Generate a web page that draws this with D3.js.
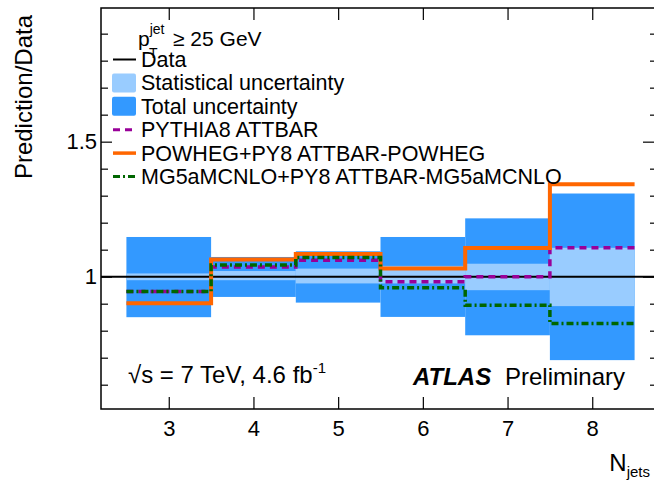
<!DOCTYPE html>
<html>
<head>
<meta charset="utf-8">
<script src="https://cdn.jsdelivr.net/npm/d3@7"></script>
<style>
  html, body { margin: 0; padding: 0; background: #fff; }
  svg { display: block; font-family: "Liberation Sans", Arial, Helvetica, sans-serif; }
</style>
</head>
<body>
<svg id="chart" width="654" height="481"></svg>
<script>
// Jet multiplicity bins and the ratio of each prediction to data
const nJets = [3, 4, 5, 6, 7, 8];
const totalLow  = [0.850, 0.925, 0.904, 0.851, 0.783, 0.691];
const totalHigh = [1.147, 1.073, 1.094, 1.147, 1.216, 1.308];
const statLow   = [0.987, 0.987, 0.975, 0.975, 0.950, 0.891];
const statHigh  = [1.012, 1.021, 1.030, 1.040, 1.048, 1.107];
const pythia8   = [0.945, 1.036, 1.061, 0.981, 1.000, 1.107];
const powheg    = [0.902, 1.064, 1.084, 1.030, 1.106, 1.342];
const mg5amcnlo = [0.945, 1.043, 1.071, 0.959, 0.894, 0.827];
const yMajorTicks = [1, 1.5];
const yTickLabels = ["1", "1.5"];
const legendLabels = [
  "Data",
  "Statistical uncertainty",
  "Total uncertainty",
  "PYTHIA8 ATTBAR",
  "POWHEG+PY8 ATTBAR-POWHEG",
  "MG5aMCNLO+PY8 ATTBAR-MG5aMCNLO"
];

const svg = d3.select("#chart");
const frame = { left: 101, right: 660, top: 8, bottom: 409 };

const x = d3.scaleLinear().domain([2.2, 8.8]).range([frame.left, frame.right]);
const y = d3.scaleLinear().domain([0.51, 1.995]).range([frame.bottom, frame.top]);

const colors = {
  total: "#3399ff",
  stat: "#99ccff",
  pythia: "#990099",
  powheg: "#ff6600",
  mg5: "#006600"
};

const plot = svg.append("g");

// total uncertainty boxes
plot.selectAll("rect.total").data(nJets).join("rect")
  .attr("class", "total")
  .attr("x", d => x(d - 0.5))
  .attr("width", d => x(d + 0.5) - x(d - 0.5))
  .attr("y", (d, i) => y(totalHigh[i]))
  .attr("height", (d, i) => y(totalLow[i]) - y(totalHigh[i]))
  .attr("fill", colors.total);

// statistical uncertainty boxes
plot.selectAll("rect.stat").data(nJets).join("rect")
  .attr("class", "stat")
  .attr("x", d => x(d - 0.5))
  .attr("width", d => x(d + 0.5) - x(d - 0.5))
  .attr("y", (d, i) => y(statHigh[i]))
  .attr("height", (d, i) => y(statLow[i]) - y(statHigh[i]))
  .attr("fill", colors.stat);

// data reference line at unity
plot.append("line")
  .attr("x1", frame.left).attr("x2", frame.right)
  .attr("y1", y(1)).attr("y2", y(1))
  .attr("stroke", "#000").attr("stroke-width", 2);

// step histograms for the predictions
function stepPoints(vals) {
  const pts = [];
  nJets.forEach((n, i) => { pts.push([n - 0.5, vals[i]], [n + 0.5, vals[i]]); });
  return pts;
}
const stepLine = d3.line().x(d => x(d[0])).y(d => y(d[1]));

const series = [
  { vals: pythia8, color: colors.pythia, width: 3.5, dash: "7,5" },
  { vals: powheg, color: colors.powheg, width: 4, dash: null },
  { vals: mg5amcnlo, color: colors.mg5, width: 3.5, dash: "7,3,2,3" }
];
series.forEach(s => {
  plot.append("path")
    .attr("d", stepLine(stepPoints(s.vals)))
    .attr("fill", "none")
    .attr("stroke", s.color)
    .attr("stroke-width", s.width)
    .attr("stroke-dasharray", s.dash);
});

// frame and axes
const axisColor = "#000";
const minorY = d3.range(6, 20).map(v => v / 10).filter(v => !yMajorTicks.includes(v));

function styleAxis(g) {
  g.select(".domain").remove();
  g.selectAll(".tick line").attr("stroke", axisColor).attr("stroke-width", 1.2);
  g.selectAll(".tick text").attr("font-size", 22).attr("fill", "#000")
    .attr("font-family", "'Liberation Sans', Arial, Helvetica, sans-serif");
}

svg.append("g").attr("transform", `translate(${frame.left},0)`)
  .call(d3.axisLeft(y).tickValues(yMajorTicks).tickSize(-11).tickPadding(4)
    .tickFormat((d, i) => yTickLabels[i]))
  .call(styleAxis);
svg.append("g").attr("transform", `translate(${frame.left},0)`)
  .call(d3.axisLeft(y).tickValues(minorY).tickSize(-7).tickFormat(""))
  .call(styleAxis);
svg.append("g").attr("transform", `translate(${frame.right},0)`)
  .call(d3.axisRight(y).tickValues(yMajorTicks).tickSize(-17).tickFormat(""))
  .call(styleAxis);
svg.append("g").attr("transform", `translate(${frame.right},0)`)
  .call(d3.axisRight(y).tickValues(minorY).tickSize(-10).tickFormat(""))
  .call(styleAxis);
svg.append("g").attr("transform", `translate(0,${frame.bottom})`)
  .call(d3.axisBottom(x).tickValues(nJets).tickSize(-12).tickPadding(11).tickFormat(d3.format("d")))
  .call(styleAxis);
svg.append("g").attr("transform", `translate(0,${frame.top})`)
  .call(d3.axisTop(x).tickValues(nJets).tickSize(-12).tickFormat(""))
  .call(styleAxis);

svg.append("rect")
  .attr("x", frame.left).attr("y", frame.top)
  .attr("width", frame.right - frame.left).attr("height", frame.bottom - frame.top)
  .attr("fill", "none").attr("stroke", "#000").attr("stroke-width", 1.5);

// axis titles
svg.append("text")
  .attr("transform", `translate(32,15) rotate(-90)`)
  .attr("text-anchor", "end").attr("font-size", 24)
  .text("Prediction/Data");

const xt = svg.append("text").attr("x", 650).attr("y", 471)
  .attr("text-anchor", "end").attr("font-size", 24);
xt.append("tspan").text("N");
xt.append("tspan").attr("font-size", 15).attr("dy", 6).text("jets");

// cut label
const cut = svg.append("text").attr("x", 138).attr("y", 46).attr("font-size", 21);
cut.append("tspan").text("p");
cut.append("tspan").attr("font-size", 14).attr("dy", -12).text("jet");
cut.append("tspan").attr("x", 173).attr("dy", 12).text("≥ 25 GeV");
svg.append("text").attr("x", 149).attr("y", 58).attr("font-size", 14).text("T");

// legend
const legendY0 = 67, legendDy = 23.4, symX0 = 112, symX1 = 136, textX = 141;
const leg = svg.append("g");
legendLabels.forEach((label, i) => {
  const base = legendY0 + i * legendDy;
  const mid = base - 7.5;
  if (i === 0) {
    leg.append("line").attr("x1", symX0 + 1).attr("x2", symX1).attr("y1", mid).attr("y2", mid)
      .attr("stroke", "#000").attr("stroke-width", 2);
  } else if (i === 1 || i === 2) {
    leg.append("rect").attr("x", symX0).attr("y", mid - 9.5).attr("width", symX1 - symX0).attr("height", 19)
      .attr("rx", 2).attr("fill", i === 1 ? colors.stat : colors.total);
  } else {
    const s = series[i - 3];
    leg.append("line").attr("x1", symX0 + 1).attr("x2", symX1).attr("y1", mid).attr("y2", mid)
      .attr("stroke", s.color).attr("stroke-width", s.width - 0.5).attr("stroke-dasharray", s.dash);
  }
  leg.append("text").attr("x", textX).attr("y", base).attr("font-size", 21.5).text(label);
});

// energy, luminosity and experiment labels
const energy = svg.append("text").attr("x", 128).attr("y", 383).attr("font-size", 24);
energy.append("tspan").text("√s = 7 TeV, 4.6 fb");
energy.append("tspan").attr("font-size", 15).attr("dy", -10).text("-1");

svg.append("text").attr("x", 413).attr("y", 385).attr("font-size", 24)
  .attr("font-weight", "bold").attr("font-style", "italic").text("ATLAS");
svg.append("text").attr("x", 505).attr("y", 385).attr("font-size", 24).text("Preliminary");
</script>
</body>
</html>
